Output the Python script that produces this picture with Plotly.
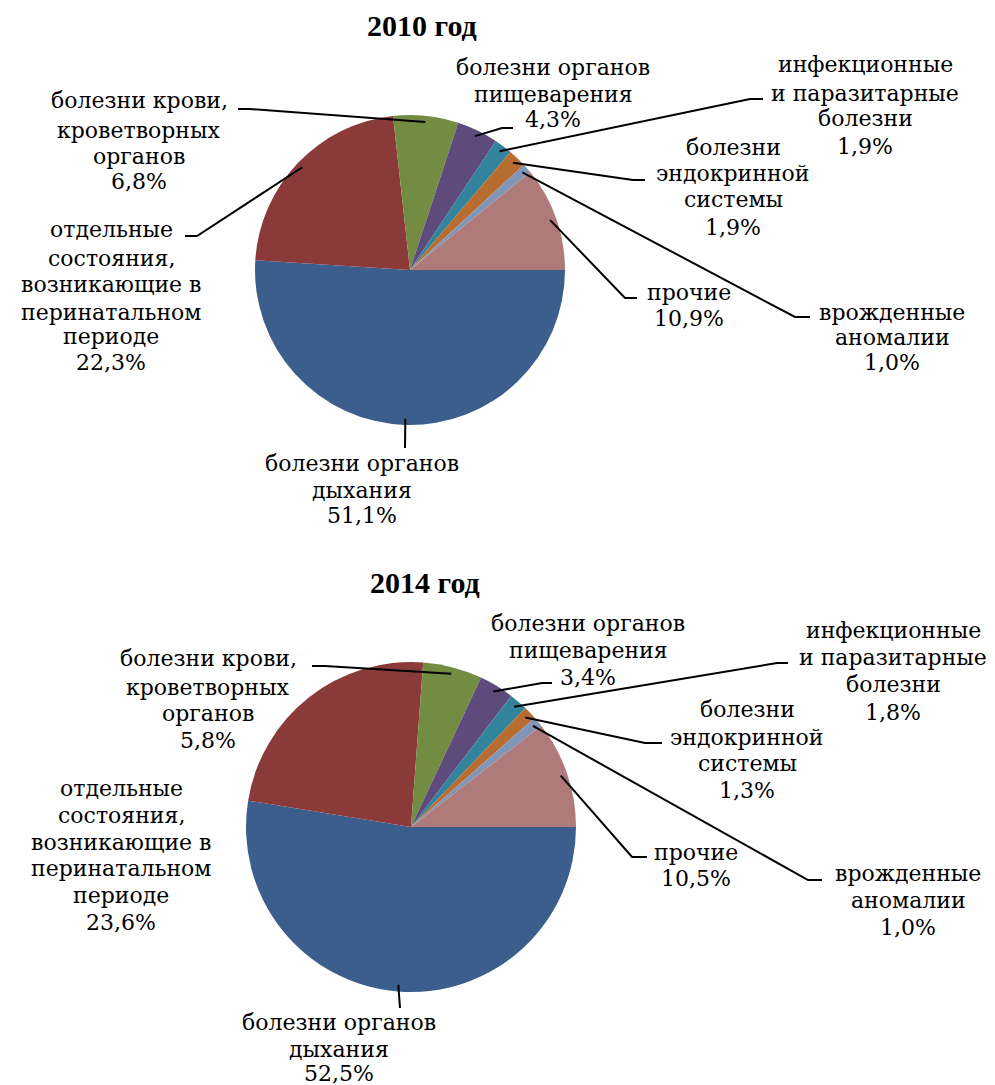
import math
import plotly.graph_objects as go

# ---------------- data ----------------
categories = [
    "прочие",
    "врожденные аномалии",
    "болезни эндокринной системы",
    "инфекционные и паразитарные болезни",
    "болезни органов пищеварения",
    "болезни крови, кроветворных органов",
    "отдельные состояния, возникающие в перинатальном периоде",
    "болезни органов дыхания",
]
values_2010 = [10.9, 1.0, 1.9, 1.9, 4.3, 6.8, 22.3, 51.1]
values_2014 = [10.5, 1.0, 1.3, 1.8, 3.4, 5.8, 23.6, 52.5]
titles = ["2010 год", "2014 год"]
label_lines = [
    ["прочие"],
    ["врожденные", "аномалии"],
    ["болезни", "эндокринной", "системы"],
    ["инфекционные", "и паразитарные", "болезни"],
    ["болезни органов", "пищеварения"],
    ["болезни крови,", "кроветворных", "органов"],
    ["отдельные", "состояния,", "возникающие в", "перинатальном", "периоде"],
    ["болезни органов", "дыхания"],
]

# ---------------- styles / layout (pixels) ----------------
slice_colors = ["#AE7B7A", "#8196B6", "#B86C30", "#31849B",
                "#5E4A7B", "#728C42", "#8B3A3A", "#3B5E8C"]
W, H = 995, 1085
LABEL_FONT = "DejaVu Serif, Liberation Serif, serif"
TITLE_FONT = "Liberation Serif, Times New Roman, serif"

panels = [
    dict(values=values_2010, title=titles[0], cx=410, cy=270, r=155, title_xy=(422, 25),
         label_x=[689, 892, 733, 865, 553, 139, 111, 362],
         label_y=[[292, 318], [312, 338, 363], [147, 173, 200, 227],
                  [65, 93, 119, 146], [67, 95, 120], [100, 130, 157, 182],
                  [230, 258, 285, 312, 337, 363], [463, 490, 515]],
         elbows=[[(637, 298), (625, 298)], [(810, 317), (795, 317)],
                 [(645, 180), (633, 180)], [(763, 99), (750, 99)],
                 [(513, 128), (502, 128)], [(238, 109), (250, 109)],
                 [(185, 236), (197, 236)], [(405, 448)]]),
    dict(values=values_2014, title=titles[1], cx=411, cy=827, r=165, title_xy=(425, 582),
         label_x=[696, 908, 747, 893, 588, 208, 121, 339],
         label_y=[[852, 878], [873, 900, 927], [709, 737, 763, 790],
                  [631, 657, 684, 712], [623, 650, 677], [658, 687, 713, 740],
                  [788, 815, 842, 868, 895, 922], [1022, 1049, 1073]],
         elbows=[[(647, 857), (632, 857)], [(822, 880), (808, 880)],
                 [(662, 743), (645, 743)], [(788, 663), (777, 663)],
                 [(552, 683), (542, 683)], [(312, 666), (325, 666)],
                 None, [(400, 1008)]]),
]


def px(x):
    return x / W


def py(y):
    return 1 - y / H


def fmt(v):
    return f"{v:.1f}".replace(".", ",") + "%"


fig = go.Figure()
annotations = []
shapes = []

for p in panels:
    cx, cy, r = p["cx"], p["cy"], p["r"]
    # clockwise from 3 o'clock with reversed order => first category sits just above 3 o'clock
    fig.add_trace(go.Pie(
        labels=categories[::-1],
        values=p["values"][::-1],
        sort=False,
        direction="clockwise",
        rotation=90,
        marker=dict(colors=slice_colors[::-1], line=dict(width=0)),
        textinfo="none",
        hoverinfo="label+percent",
        showlegend=False,
        domain=dict(x=[px(cx - r), px(cx + r)], y=[py(cy + r), py(cy - r)]),
    ))
    tx, ty = p["title_xy"]
    annotations.append(dict(
        x=px(tx), y=py(ty), xref="paper", yref="paper", showarrow=False,
        text="<b>" + p["title"] + "</b>",
        font=dict(family=TITLE_FONT, size=30, color="#000"),
        xanchor="center", yanchor="middle"))

    total = sum(p["values"])
    cum = 0.0
    for i, v in enumerate(p["values"]):
        mid = (cum + v / 2) / total * 2 * math.pi
        cum += v
        lines = label_lines[i] + [fmt(v)]
        for line, ly in zip(lines, p["label_y"][i]):
            annotations.append(dict(
                x=px(p["label_x"][i]), y=py(ly), xref="paper", yref="paper",
                showarrow=False, text=line,
                font=dict(family=LABEL_FONT, size=22, color="#000"),
                xanchor="center", yanchor="middle"))
        el = p["elbows"][i]
        if el is None:
            continue
        ex = cx + 0.96 * r * math.cos(mid)
        ey = cy - 0.96 * r * math.sin(mid)
        pts = list(el) + [(ex, ey)]
        path = "M " + " L ".join(f"{px(a):.5f},{py(b):.5f}" for a, b in pts)
        shapes.append(dict(type="path", xref="paper", yref="paper", path=path,
                           line=dict(color="#000", width=2)))

fig.update_layout(
    width=W, height=H,
    margin=dict(l=0, r=0, t=0, b=0),
    paper_bgcolor="white", plot_bgcolor="white",
    annotations=annotations, shapes=shapes,
)

fig.write_html("out.html")
